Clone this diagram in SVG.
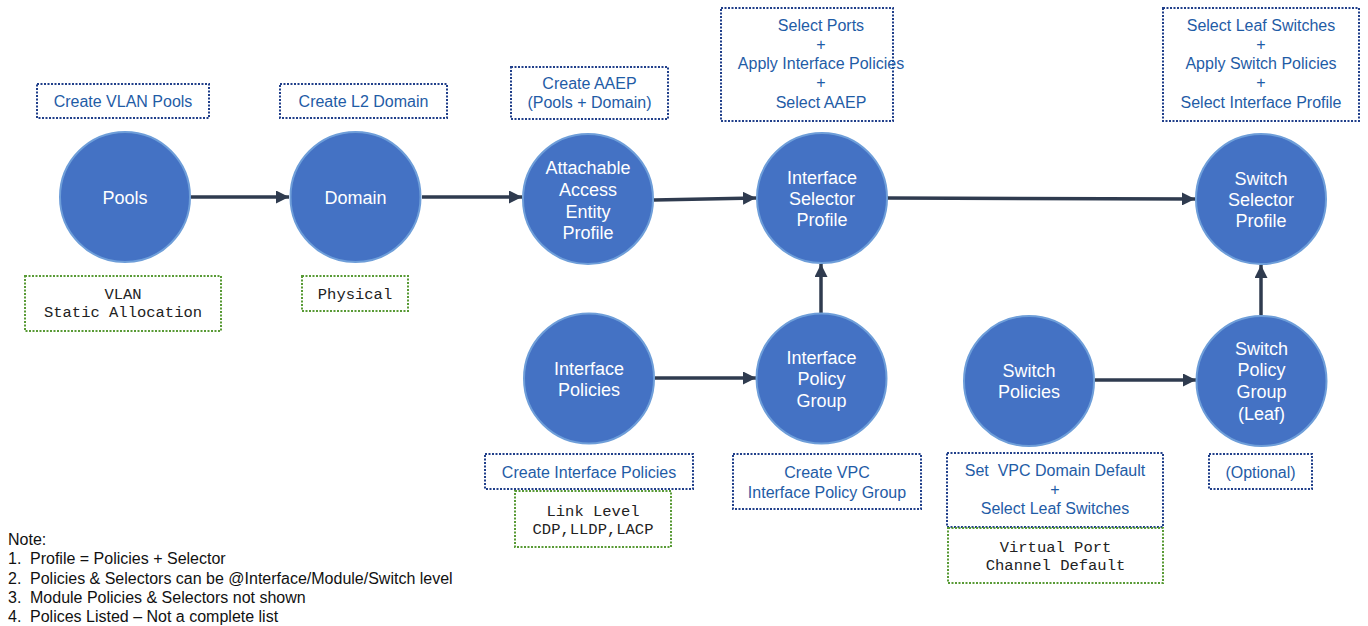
<svg xmlns="http://www.w3.org/2000/svg" width="1368" height="626" viewBox="0 0 1368 626">
  <style>
    .bg { fill: #ffffff; }
    .node circle { fill: #4472C4; stroke: #6E9ED9; stroke-width: 2; }
    .node text { font-family: "Liberation Sans", Arial, sans-serif; font-size: 18px; fill: #ffffff; text-anchor: middle; }
    .task rect { fill: none; stroke: #203F8A; stroke-width: 2; stroke-dasharray: 2 1.5; }
    .task text { font-family: "Liberation Sans", Arial, sans-serif; font-size: 16px; fill: #1F5CA6; text-anchor: middle; }
    .item rect { fill: none; stroke: #589A35; stroke-width: 2; stroke-dasharray: 2 1.5; }
    .item text { font-family: "Liberation Mono", "Courier New", monospace; font-size: 15.5px; fill: #222222; text-anchor: middle; }
    .conn line { stroke: #2F3B4F; stroke-width: 3.5; }
    .note text { font-family: "Liberation Sans", Arial, sans-serif; font-size: 16px; fill: #111111; }
  </style>
  <defs>
    <marker id="arrow" viewBox="0 0 12 12" refX="12" refY="6" markerWidth="13" markerHeight="13" markerUnits="userSpaceOnUse" orient="auto">
      <path d="M0,0 L12,6 L0,12 z" fill="#2F3B4F"/>
    </marker>
  </defs>
  <rect class="bg" x="0" y="0" width="1368" height="626"/>

  <!-- connectors -->
  <g id="connectors" class="conn">
    <line x1="191" y1="197" x2="289" y2="197" marker-end="url(#arrow)"/>
    <line x1="422" y1="197" x2="522" y2="197" marker-end="url(#arrow)"/>
    <line x1="654" y1="200" x2="756" y2="198" marker-end="url(#arrow)"/>
    <line x1="887" y1="198" x2="1195" y2="199" marker-end="url(#arrow)"/>
    <line x1="655" y1="378" x2="756" y2="378" marker-end="url(#arrow)"/>
    <line x1="821" y1="313" x2="821" y2="264" marker-end="url(#arrow)"/>
    <line x1="1095" y1="380" x2="1196" y2="380" marker-end="url(#arrow)"/>
    <line x1="1261" y1="315" x2="1261" y2="265" marker-end="url(#arrow)"/>
  </g>

  <!-- nodes -->
  <g id="pools" class="node">
    <circle cx="125" cy="197" r="65"/>
    <text x="125" y="203.5">Pools</text>
  </g>
  <g id="domain" class="node">
    <circle cx="355.5" cy="197" r="65"/>
    <text x="355.5" y="203.5">Domain</text>
  </g>
  <g id="aaep" class="node">
    <circle cx="588" cy="199" r="65"/>
    <text x="588" y="173.5">Attachable</text>
    <text x="588" y="195.5">Access</text>
    <text x="588" y="217.5">Entity</text>
    <text x="588" y="238.5">Profile</text>
  </g>
  <g id="interface-selector-profile" class="node">
    <circle cx="822" cy="198" r="65"/>
    <text x="822" y="183.5">Interface</text>
    <text x="822" y="204.5">Selector</text>
    <text x="822" y="226">Profile</text>
  </g>
  <g id="switch-selector-profile" class="node">
    <circle cx="1261" cy="199" r="65"/>
    <text x="1261" y="184.5">Switch</text>
    <text x="1261" y="205.5">Selector</text>
    <text x="1261" y="226.5">Profile</text>
  </g>
  <g id="interface-policies" class="node">
    <circle cx="589" cy="378.5" r="65"/>
    <text x="589" y="374.5">Interface</text>
    <text x="589" y="396">Policies</text>
  </g>
  <g id="interface-policy-group" class="node">
    <circle cx="821.5" cy="378.5" r="65"/>
    <text x="821.5" y="363.5">Interface</text>
    <text x="821.5" y="385">Policy</text>
    <text x="821.5" y="407">Group</text>
  </g>
  <g id="switch-policies" class="node">
    <circle cx="1029" cy="381" r="65"/>
    <text x="1029" y="376.5">Switch</text>
    <text x="1029" y="397.5">Policies</text>
  </g>
  <g id="switch-policy-group" class="node">
    <circle cx="1261.5" cy="381" r="65"/>
    <text x="1261.5" y="354.5">Switch</text>
    <text x="1261.5" y="376">Policy</text>
    <text x="1261.5" y="397.5">Group</text>
    <text x="1261.5" y="419.5">(Leaf)</text>
  </g>

  <!-- task labels (blue dotted) -->
  <g id="task-vlan-pools" class="task">
    <rect x="37" y="84" width="172" height="34"/>
    <text x="123" y="106.5">Create VLAN Pools</text>
  </g>
  <g id="task-l2-domain" class="task">
    <rect x="280" y="84" width="167" height="34"/>
    <text x="363.5" y="106.5">Create L2 Domain</text>
  </g>
  <g id="task-aaep" class="task">
    <rect x="511" y="67" width="157" height="52"/>
    <text x="589.5" y="88.5">Create AAEP</text>
    <text x="589.5" y="107.5">(Pools + Domain)</text>
  </g>
  <g id="task-interface-selector" class="task">
    <rect x="721" y="8" width="172" height="113"/>
    <text x="821" y="30.5">Select Ports</text>
    <text x="821" y="49.5">+</text>
    <text x="821" y="69">Apply Interface Policies</text>
    <text x="821" y="88">+</text>
    <text x="821" y="107.5">Select AAEP</text>
  </g>
  <g id="task-switch-selector" class="task">
    <rect x="1163" y="8" width="196" height="113"/>
    <text x="1261" y="30.5">Select Leaf Switches</text>
    <text x="1261" y="49.5">+</text>
    <text x="1261" y="69">Apply Switch Policies</text>
    <text x="1261" y="88">+</text>
    <text x="1261" y="107.5">Select Interface Profile</text>
  </g>
  <g id="task-interface-policies" class="task">
    <rect x="485" y="454" width="208" height="35"/>
    <text x="589" y="477.5">Create Interface Policies</text>
  </g>
  <g id="task-vpc-policy-group" class="task">
    <rect x="733" y="454" width="188" height="55"/>
    <text x="827" y="477.5">Create VPC</text>
    <text x="827" y="498">Interface Policy Group</text>
  </g>
  <g id="task-switch-policies" class="task">
    <rect x="947" y="453" width="216" height="74"/>
    <text x="1055" y="475.5">Set&#160; VPC Domain Default</text>
    <text x="1055" y="494.5">+</text>
    <text x="1055" y="513.5">Select Leaf Switches</text>
  </g>
  <g id="task-optional" class="task">
    <rect x="1209" y="454" width="103" height="35"/>
    <text x="1260.5" y="477.5">(Optional)</text>
  </g>

  <!-- example values (green dotted) -->
  <g id="item-vlan" class="item">
    <rect x="25" y="276" width="196" height="55"/>
    <text x="123" y="298.5">VLAN</text>
    <text x="123" y="316.5">Static Allocation</text>
  </g>
  <g id="item-physical" class="item">
    <rect x="302" y="276" width="106" height="35"/>
    <text x="355" y="298.5">Physical</text>
  </g>
  <g id="item-link-level" class="item">
    <rect x="515" y="491" width="156" height="56"/>
    <text x="593" y="515.5">Link Level</text>
    <text x="593" y="533.5">CDP,LLDP,LACP</text>
  </g>
  <g id="item-vpc-default" class="item">
    <rect x="948" y="528" width="215" height="55"/>
    <text x="1055.5" y="551.5">Virtual Port</text>
    <text x="1055.5" y="569.5">Channel Default</text>
  </g>

  <!-- footnote -->
  <g id="note" class="note">
    <text x="8" y="545">Note:</text>
    <text x="8" y="564">1.</text><text x="30" y="564">Profile = Policies + Selector</text>
    <text x="8" y="583.5">2.</text><text x="30" y="583.5">Policies &amp; Selectors can be @Interface/Module/Switch level</text>
    <text x="8" y="603">3.</text><text x="30" y="603">Module Policies &amp; Selectors not shown</text>
    <text x="8" y="622">4.</text><text x="30" y="622">Polices Listed – Not a complete list</text>
  </g>
</svg>
